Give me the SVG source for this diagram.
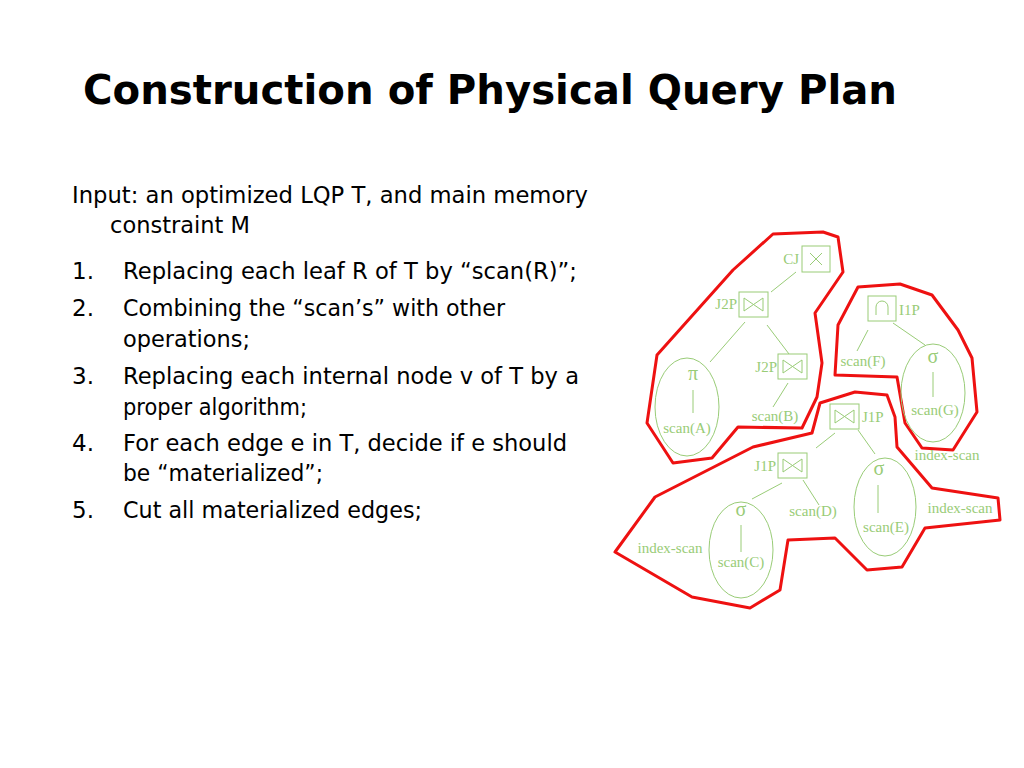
<svg xmlns="http://www.w3.org/2000/svg" width="1024" height="768" viewBox="0 0 1024 768">
<style>
.t{font-family:"DejaVu Sans",Verdana,sans-serif;fill:#000}
.g{font-family:"Liberation Serif","Times New Roman",serif;font-size:15px;fill:#99cc77}
.sym{font-size:20px}
.gs{stroke:#99cc77;stroke-width:1;fill:none}
.r{stroke:#ee1111;stroke-width:3;fill:none;stroke-linejoin:round}
</style>
<defs>
<g id="bow"><rect x="0" y="0" width="29" height="25" class="gs"/><path d="M5 6 L5 19 L24 6 L24 19 Z" class="gs"/></g>
</defs>
<rect width="1024" height="768" fill="#fff"/>
<text class="t" x="83" y="104" font-size="40" font-weight="bold" textLength="814" lengthAdjust="spacingAndGlyphs">Construction of Physical Query Plan</text>
<g font-size="23">
<text class="t" x="72" y="203" textLength="516" lengthAdjust="spacingAndGlyphs">Input: an optimized LQP T, and main memory</text>
<text class="t" x="110" y="233" textLength="140" lengthAdjust="spacingAndGlyphs">constraint M</text>
<text class="t" x="72" y="279">1.</text><text class="t" x="123" y="279" textLength="454" lengthAdjust="spacingAndGlyphs">Replacing each leaf R of T by “scan(R)”;</text>
<text class="t" x="72" y="316">2.</text><text class="t" x="123" y="316" textLength="382" lengthAdjust="spacingAndGlyphs">Combining the “scan’s” with other</text>
<text class="t" x="123" y="347" textLength="127" lengthAdjust="spacingAndGlyphs">operations;</text>
<text class="t" x="72" y="384">3.</text><text class="t" x="123" y="384" textLength="456" lengthAdjust="spacingAndGlyphs">Replacing each internal node v of T by a</text>
<text class="t" x="123" y="415" textLength="184" lengthAdjust="spacingAndGlyphs">proper algorithm;</text>
<text class="t" x="72" y="451">4.</text><text class="t" x="123" y="451" textLength="444" lengthAdjust="spacingAndGlyphs">For each edge e in T, decide if e should</text>
<text class="t" x="123" y="481" textLength="200" lengthAdjust="spacingAndGlyphs">be “materialized”;</text>
<text class="t" x="72" y="518">5.</text><text class="t" x="123" y="518" textLength="299" lengthAdjust="spacingAndGlyphs">Cut all materialized edges;</text>
</g>
<g id="groups">
<polygon class="r" points="773,234 823,232 838,237 843,272 815,313 822,363 817,397 802,428 738,427 712,458 673,463 647,423 657,355 733,270"/>
<polygon class="r" points="858,287 900,284 932,295 958,330 972,358 977,412 953,450 922,448 905,423 897,377 835,375 838,325"/>
<polygon class="r" points="820,403 855,392 887,395 895,417 897,447 932,488 998,498 1000,520 925,528 902,567 867,570 835,538 788,540 780,590 750,608 692,597 615,552 655,497 753,447 812,433"/>
</g>
<g id="connectors" class="gs">
<line x1="796" y1="272" x2="771" y2="292"/>
<line x1="767" y1="325" x2="789" y2="354"/>
<line x1="745" y1="322" x2="710" y2="362"/>
<line x1="788" y1="383" x2="773" y2="407"/>
<line x1="868" y1="330" x2="857" y2="351"/>
<line x1="893" y1="323" x2="925" y2="345"/>
<line x1="835" y1="433" x2="816" y2="448"/>
<line x1="858" y1="430" x2="875" y2="454"/>
<line x1="782" y1="483" x2="752" y2="499"/>
<line x1="803" y1="480" x2="819" y2="505"/>
</g>
<g id="CJ"><rect x="802" y="246" width="28" height="26" class="gs"/><path d="M810 253 L822 265 M822 253 L810 265" class="gs"/><text class="g" x="799" y="264" text-anchor="end">CJ</text></g>
<g id="J2P_top"><use href="#bow" x="739" y="292"/><text class="g" x="737" y="309" text-anchor="end">J2P</text></g>
<g id="J2P_mid"><use href="#bow" x="778" y="354"/><text class="g" x="777" y="372" text-anchor="end">J2P</text></g>
<g id="piA"><ellipse cx="687" cy="407" rx="32" ry="49" class="gs"/><text class="g sym" x="693" y="380" text-anchor="middle">π</text><line x1="693" y1="390" x2="693" y2="413" class="gs"/><text class="g" x="687" y="433" text-anchor="middle">scan(A)</text></g>
<g id="scanB"><text class="g" x="775" y="421" text-anchor="middle">scan(B)</text></g>
<g id="I1P"><rect x="868" y="296" width="28" height="25" class="gs"/><path d="M876 315 L876 307 A6 6 0 0 1 888 307 L888 315" class="gs"/><text class="g" x="899" y="315">I1P</text></g>
<g id="scanF"><text class="g" x="863" y="366" text-anchor="middle">scan(F)</text></g>
<g id="sigG"><ellipse cx="933" cy="393" rx="32" ry="49" class="gs"/><text class="g sym" x="933" y="363" text-anchor="middle">σ</text><line x1="933" y1="372" x2="933" y2="397" class="gs"/><text class="g" x="935" y="415" text-anchor="middle">scan(G)</text><text class="g" x="947" y="460" text-anchor="middle">index-scan</text></g>
<g id="J1P_top"><use href="#bow" x="830" y="404"/><text class="g" x="862" y="422">J1P</text></g>
<g id="J1P_low"><use href="#bow" x="778" y="453"/><text class="g" x="776" y="471" text-anchor="end">J1P</text></g>
<g id="sigE"><ellipse cx="885" cy="507" rx="31" ry="49" class="gs"/><text class="g sym" x="879" y="475" text-anchor="middle">σ</text><line x1="878" y1="485" x2="878" y2="513" class="gs"/><text class="g" x="886" y="532" text-anchor="middle">scan(E)</text><text class="g" x="960" y="513" text-anchor="middle">index-scan</text></g>
<g id="scanD"><text class="g" x="813" y="516" text-anchor="middle">scan(D)</text></g>
<g id="sigC"><ellipse cx="741" cy="550" rx="32" ry="48" class="gs"/><text class="g sym" x="741" y="516" text-anchor="middle">σ</text><line x1="741" y1="525" x2="741" y2="552" class="gs"/><text class="g" x="741" y="567" text-anchor="middle">scan(C)</text><text class="g" x="670" y="553" text-anchor="middle">index-scan</text></g>
</svg>
